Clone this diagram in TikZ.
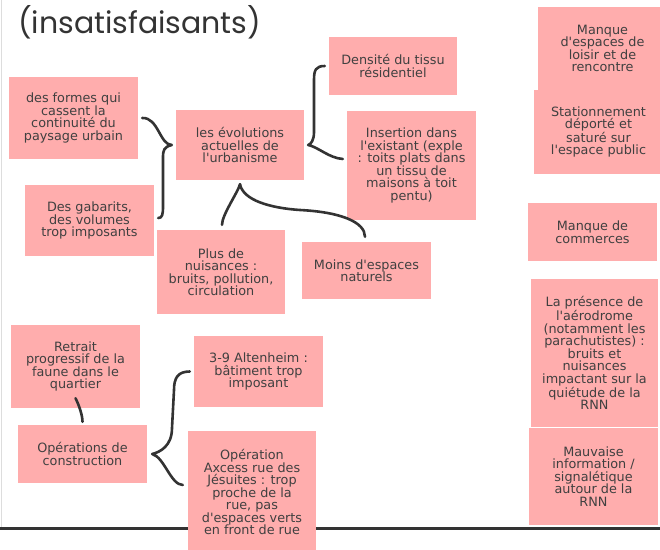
\documentclass[tikz,border=0pt]{standalone}
\usepackage{fontspec}
\newfontfamily\notefont{DejaVu Sans}
\newfontfamily\titlefont{Poppins}
\usepackage{xcolor}
\definecolor{Col1}{RGB}{255,173,173}
\definecolor{Col2}{RGB}{64,64,64}
\definecolor{Col3}{RGB}{51,51,51}
\definecolor{Col4}{RGB}{221,221,221}
\usepackage{tikz}
\tikzstyle{Note}=[rectangle,fill=Col1,text=Col2,inner sep=0pt,
minimum width=129pt,align=center,
font=\notefont\fontsize{12.8}{12.5}\selectfont]
\tikzstyle{Brace}=[draw=Col3,line width=2.6pt,line cap=round,
line join=round]
\tikzstyle{Title}=[font=\titlefont\fontsize{30}{36}\selectfont,
text=Col3,inner sep=0pt,anchor=base west]

\begin{document}
\begin{tikzpicture}[x=1pt,y=-1pt]
            \useasboundingbox(0,0)rectangle(660,549);
            \draw[Col4,line width=1pt](1,0)--(1,527);
            \draw[Col3,line width=3pt](0,528.5)--(660,528.5);
            \node[Title](0)at(18,33){(insatisfaisants)};
            \node[Note,minimum height=82pt](1)at(73.5,118)
                {des formes qui\\cassent la\\continuité du\\paysage urbain};
            \node[Note,minimum width=128pt,minimum height=70pt](2)at(240,145)
                {les évolutions\\actuelles de\\l'urbanisme};
            \node[Note,minimum height=71pt](3)at(89.5,220.5)
                {Des gabarits,\\des volumes\\trop imposants};
            \node[Note,minimum width=128pt,minimum height=84pt](4)at(221,272)
                {Plus de\\nuisances :\\bruits, pollution,\\circulation};
            \node[Note,minimum height=57pt](5)at(366.5,270.5)
                {Moins d'espaces\\naturels};
            \node[Note,minimum width=128pt,minimum height=58pt](6)at(393,66)
                {Densité du tissu\\résidentiel};
            \node[Note,minimum height=109pt](7)at(411.5,165.5)
                {Insertion dans\\l'existant (exple\\: toits plats dans\\un tissu de\\maisons à toit\\pentu)};
            \node[Note,minimum height=83pt](8)at(602.5,48.5)
                {Manque\\d'espaces de\\loisir et de\\rencontre};
            \node[Note,minimum height=84pt](9)at(598.5,132)
                {Stationnement\\déporté et\\saturé sur\\l'espace public};
            \node[Note,minimum height=58pt](10)at(592.5,232)
                {Manque de\\commerces};
            \node[Note,minimum width=127pt,minimum height=148pt](11)at(594.5,353)
                {La présence de\\l'aérodrome\\(notamment les\\parachutistes) :\\bruits et\\nuisances\\impactant sur la\\quiétude de la\\RNN};
            \node[Note,minimum height=97pt](12)at(593.5,476.5)
                {Mauvaise\\information /\\signalétique\\autour de la\\RNN};
            \node[Note,minimum height=83pt](13)at(75.5,366.5)
                {Retrait\\progressif de la\\faune dans le\\quartier};
            \node[Note,minimum height=58pt](14)at(82.5,454)
                {Opérations de\\construction};
            \node[Note,minimum height=71pt](15)at(258.5,371.5)
                {3-9 Altenheim :\\bâtiment trop\\imposant};
            \node[Note,minimum width=128pt,minimum height=122pt](16)at(252,492)
                {Opération\\Axcess rue des\\Jésuites : trop\\proche de la\\rue, pas\\d'espaces verts\\en front de rue};
            %
            \draw[Brace]([xshift=4pt]1.east)
                ..controls+(16,-1)and+(-12,0)..([xshift=-4pt]2.west)
                ..controls+(-8,2)and+(0,-8)..(163,158)--(163,206)
                ..controls+(0,9)and+(4,0)..([xshift=4pt,yshift=2.5pt]3.east);
            \draw[Brace]([xshift=-4pt]6.west)
                ..controls+(-9,0)and+(0,-10)..(314,80)--(314,132)
                ..controls+(0,8)and+(3,-1)..([xshift=4pt]2.east)
                ..controls+(10,2)and+(-14,-1)..([xshift=-4pt,yshift=6.5pt]7.west);
            \draw[Brace]([yshift=-4pt]2.south)
                ..controls+(-2,8)and+(0,-10)..([xshift=1pt,yshift=5pt]4.north);
            \draw[Brace]([yshift=-4pt]2.south)
                ..controls+(3,16)and+(-30,-2)..(300,210)
                ..controls+(40,2)and+(0,-15)..([xshift=-1.5pt,yshift=5pt]5.north);
            \draw[Brace]([yshift=10pt]13.south)
                ..controls+(4,8)and+(0,-6)..([yshift=3pt]14.north);
            \draw[Brace]([xshift=-4pt]15.west)
                ..controls+(-12,0)and+(0,-12)..(174,390)--(172,428)
                ..controls+(0,18)and+(8,-2)..([xshift=5pt]14.east)
                ..controls+(12,3)and+(-12,0)..([xshift=-5pt,yshift=7pt]16.west);
\end{tikzpicture}
\end{document}
